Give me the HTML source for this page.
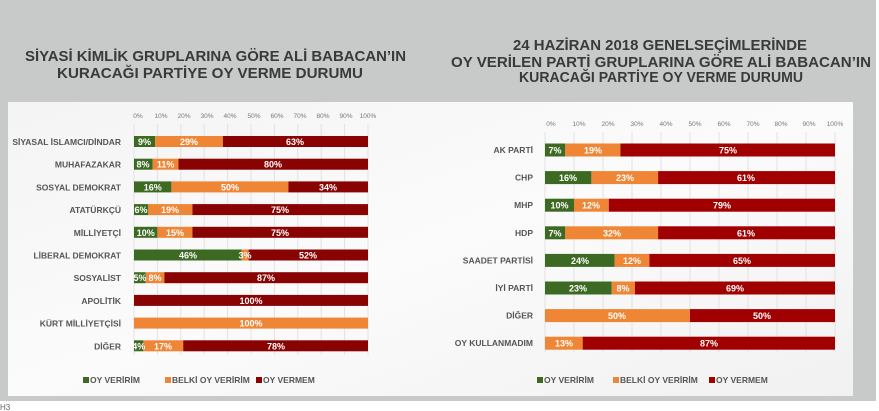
<!DOCTYPE html>
<html><head><meta charset="utf-8"><style>
html,body{margin:0;padding:0;background:#fff;}
svg{display:block;font-family:"Liberation Sans",sans-serif;}
.t{font-weight:bold;fill:#3a3a3a;font-size:15px;}
.ax{font-size:6.5px;fill:#777;text-anchor:middle;}
.lb{font-size:8.5px;font-weight:bold;fill:#555;text-anchor:end;}
.v{font-size:9px;font-weight:bold;fill:#fff;text-anchor:middle;}
.lg{font-size:8.5px;font-weight:bold;fill:#555;}
</style></head><body>
<svg width="879" height="411" viewBox="0 0 879 411" xmlns="http://www.w3.org/2000/svg">
<defs>
<linearGradient id="pg" x1="0" y1="0" x2="1" y2="1"><stop offset="0" stop-color="#f4f4f4"/><stop offset="0.5" stop-color="#fbfbfb"/><stop offset="1" stop-color="#f1f1f1"/></linearGradient>
</defs>
<rect x="0" y="0" width="876" height="401" fill="#c8c9c9"/>
<rect x="8" y="102" width="845" height="294" fill="url(#pg)"/>
<text x="0" y="410" font-size="8" fill="#666">H3</text>
<!-- titles -->
<text class="t" x="25" y="61" textLength="381" lengthAdjust="spacingAndGlyphs">SİYASİ KİMLİK GRUPLARINA GÖRE ALİ BABACAN’IN</text>
<text class="t" x="57" y="78" textLength="306" lengthAdjust="spacingAndGlyphs">KURACAĞI PARTİYE OY VERME DURUMU</text>
<text class="t" x="513" y="50" textLength="294" lengthAdjust="spacingAndGlyphs">24 HAZİRAN 2018 GENELSEÇİMLERİNDE</text>
<text class="t" x="451" y="67" textLength="420" lengthAdjust="spacingAndGlyphs">OY VERİLEN PARTİ GRUPLARINA GÖRE ALİ BABACAN’IN</text>
<text class="t" x="519" y="82" textLength="284" lengthAdjust="spacingAndGlyphs">KURACAĞI PARTİYE OY VERME DURUMU</text>
<!-- left grid -->
<g stroke="#e2e2e2" stroke-width="1">
<line x1="134" y1="124" x2="134" y2="355"/><line x1="157.4" y1="124" x2="157.4" y2="355"/><line x1="180.8" y1="124" x2="180.8" y2="355"/><line x1="204.2" y1="124" x2="204.2" y2="355"/><line x1="227.6" y1="124" x2="227.6" y2="355"/><line x1="251" y1="124" x2="251" y2="355"/><line x1="274.4" y1="124" x2="274.4" y2="355"/><line x1="297.8" y1="124" x2="297.8" y2="355"/><line x1="321.2" y1="124" x2="321.2" y2="355"/><line x1="344.6" y1="124" x2="344.6" y2="355"/><line x1="368" y1="124" x2="368" y2="355"/>
<line x1="545" y1="132" x2="545" y2="352"/><line x1="574" y1="132" x2="574" y2="352"/><line x1="603" y1="132" x2="603" y2="352"/><line x1="632" y1="132" x2="632" y2="352"/><line x1="661" y1="132" x2="661" y2="352"/><line x1="690" y1="132" x2="690" y2="352"/><line x1="719" y1="132" x2="719" y2="352"/><line x1="748" y1="132" x2="748" y2="352"/><line x1="777" y1="132" x2="777" y2="352"/><line x1="806" y1="132" x2="806" y2="352"/><line x1="835" y1="132" x2="835" y2="352"/>
</g>
<g class="ax">
<text x="138" y="118">0%</text><text x="161" y="118">10%</text><text x="184" y="118">20%</text><text x="207" y="118">30%</text><text x="230" y="118">40%</text><text x="254" y="118">50%</text><text x="277" y="118">60%</text><text x="300" y="118">70%</text><text x="323" y="118">80%</text><text x="346" y="118">90%</text><text x="368" y="118">100%</text>
<text x="551" y="126">0%</text><text x="579" y="126">10%</text><text x="608" y="126">20%</text><text x="637" y="126">30%</text><text x="666" y="126">40%</text><text x="695" y="126">50%</text><text x="724" y="126">60%</text><text x="753" y="126">70%</text><text x="781" y="126">80%</text><text x="809" y="126">90%</text><text x="835" y="126">100%</text>
</g>
<!-- left bars -->
<g>
<rect x="134" y="136" width="21.1" height="11" fill="#3d6a22"/><rect x="155.1" y="136" width="67.8" height="11" fill="#ef8636"/><rect x="222.9" y="136" width="145.1" height="11" fill="#8a0303"/>
<rect x="134" y="158.7" width="18.7" height="11" fill="#3d6a22"/><rect x="152.7" y="158.7" width="25.8" height="11" fill="#ef8636"/><rect x="178.5" y="158.7" width="189.5" height="11" fill="#8a0303"/>
<rect x="134" y="181.4" width="37.4" height="11" fill="#3d6a22"/><rect x="171.4" y="181.4" width="117" height="11" fill="#ef8636"/><rect x="288.4" y="181.4" width="79.6" height="11" fill="#8a0303"/>
<rect x="134" y="204.1" width="14" height="11" fill="#3d6a22"/><rect x="148" y="204.1" width="44.5" height="11" fill="#ef8636"/><rect x="192.5" y="204.1" width="175.5" height="11" fill="#8a0303"/>
<rect x="134" y="226.8" width="23.4" height="11" fill="#3d6a22"/><rect x="157.4" y="226.8" width="35.1" height="11" fill="#ef8636"/><rect x="192.5" y="226.8" width="175.5" height="11" fill="#8a0303"/>
<rect x="134" y="249.5" width="107.6" height="11" fill="#3d6a22"/><rect x="241.6" y="249.5" width="7" height="11" fill="#ef8636"/><rect x="248.6" y="249.5" width="119.4" height="11" fill="#8a0303"/>
<rect x="134" y="272.2" width="11.7" height="11" fill="#3d6a22"/><rect x="145.7" y="272.2" width="18.7" height="11" fill="#ef8636"/><rect x="164.4" y="272.2" width="203.6" height="11" fill="#8a0303"/>
<rect x="134" y="294.9" width="234" height="11" fill="#8a0303"/>
<rect x="134" y="317.6" width="234" height="11" fill="#ef8636"/>
<rect x="134" y="340.3" width="9.4" height="11" fill="#3d6a22"/><rect x="143.4" y="340.3" width="39.8" height="11" fill="#ef8636"/><rect x="183.2" y="340.3" width="184.8" height="11" fill="#8a0303"/>
</g>
<g class="v">
<text x="144.5" y="145">9%</text><text x="189" y="145">29%</text><text x="295" y="145">63%</text>
<text x="143" y="167.7">8%</text><text x="165.6" y="167.7">11%</text><text x="273" y="167.7">80%</text>
<text x="152.7" y="190.4">16%</text><text x="230" y="190.4">50%</text><text x="328" y="190.4">34%</text>
<text x="141" y="213.1">6%</text><text x="170" y="213.1">19%</text><text x="280" y="213.1">75%</text>
<text x="145.7" y="235.8">10%</text><text x="175" y="235.8">15%</text><text x="280" y="235.8">75%</text>
<text x="188" y="258.5">46%</text><text x="245" y="258.5">3%</text><text x="308" y="258.5">52%</text>
<text x="140" y="281.2">5%</text><text x="155" y="281.2">8%</text><text x="266" y="281.2">87%</text>
<text x="251" y="303.9">100%</text>
<text x="251" y="326.6">100%</text>
<text x="138.7" y="349.3">4%</text><text x="163" y="349.3">17%</text><text x="276" y="349.3">78%</text>
</g>
<g class="lb">
<text x="121" y="145">SİYASAL İSLAMCI/DİNDAR</text>
<text x="121" y="167.7">MUHAFAZAKAR</text>
<text x="121" y="190.4">SOSYAL DEMOKRAT</text>
<text x="121" y="213.1">ATATÜRKÇÜ</text>
<text x="121" y="235.8">MİLLİYETÇİ</text>
<text x="121" y="258.5">LİBERAL DEMOKRAT</text>
<text x="121" y="281.2">SOSYALİST</text>
<text x="121" y="303.9">APOLİTİK</text>
<text x="121" y="326.6">KÜRT MİLLİYETÇİSİ</text>
<text x="121" y="349.3">DİĞER</text>
</g>
<!-- right bars -->
<g>
<rect x="545" y="143.5" width="20.3" height="13" fill="#3d6a22"/><rect x="565.3" y="143.5" width="55.1" height="13" fill="#ef8636"/><rect x="620.4" y="143.5" width="214.6" height="13" fill="#a00000"/>
<rect x="545" y="171.1" width="46.4" height="13" fill="#3d6a22"/><rect x="591.4" y="171.1" width="66.7" height="13" fill="#ef8636"/><rect x="658.1" y="171.1" width="176.9" height="13" fill="#a00000"/>
<rect x="545" y="198.7" width="29" height="13" fill="#3d6a22"/><rect x="574" y="198.7" width="34.8" height="13" fill="#ef8636"/><rect x="608.8" y="198.7" width="226.2" height="13" fill="#a00000"/>
<rect x="545" y="226.3" width="20.3" height="13" fill="#3d6a22"/><rect x="565.3" y="226.3" width="92.8" height="13" fill="#ef8636"/><rect x="658.1" y="226.3" width="176.9" height="13" fill="#a00000"/>
<rect x="545" y="253.9" width="69.6" height="13" fill="#3d6a22"/><rect x="614.6" y="253.9" width="34.8" height="13" fill="#ef8636"/><rect x="649.4" y="253.9" width="185.6" height="13" fill="#a00000"/>
<rect x="545" y="281.5" width="66.7" height="13" fill="#3d6a22"/><rect x="611.7" y="281.5" width="23.2" height="13" fill="#ef8636"/><rect x="634.9" y="281.5" width="200.1" height="13" fill="#a00000"/>
<rect x="545" y="309.1" width="145" height="13" fill="#ef8636"/><rect x="690" y="309.1" width="145" height="13" fill="#a00000"/>
<rect x="545" y="336.7" width="37.7" height="13" fill="#ef8636"/><rect x="582.7" y="336.7" width="252.3" height="13" fill="#a00000"/>
</g>
<g class="v" font-size="9.5">
<text x="555" y="153.5">7%</text><text x="593" y="153.5">19%</text><text x="728" y="153.5">75%</text>
<text x="568" y="181.1">16%</text><text x="625" y="181.1">23%</text><text x="746" y="181.1">61%</text>
<text x="559.5" y="208.7">10%</text><text x="591" y="208.7">12%</text><text x="722" y="208.7">79%</text>
<text x="555" y="236.3">7%</text><text x="612" y="236.3">32%</text><text x="746" y="236.3">61%</text>
<text x="580" y="263.9">24%</text><text x="632" y="263.9">12%</text><text x="742" y="263.9">65%</text>
<text x="578" y="291.5">23%</text><text x="623" y="291.5">8%</text><text x="735" y="291.5">69%</text>
<text x="617" y="319.1">50%</text><text x="762" y="319.1">50%</text>
<text x="564" y="346.7">13%</text><text x="709" y="346.7">87%</text>
</g>
<g class="lb">
<text x="533" y="153">AK PARTİ</text>
<text x="533" y="180.6">CHP</text>
<text x="533" y="208.2">MHP</text>
<text x="533" y="235.8">HDP</text>
<text x="533" y="263.4">SAADET PARTİSİ</text>
<text x="533" y="291">İYİ PARTİ</text>
<text x="533" y="318.6">DİĞER</text>
<text x="533" y="346.2">OY KULLANMADIM</text>
</g>
<!-- legends -->
<g class="lg">
<rect x="83" y="377" width="6" height="6" fill="#3d6a22"/><text x="90" y="383">OY VERİRİM</text>
<rect x="165" y="377" width="6" height="6" fill="#ef8636"/><text x="172" y="383">BELKİ OY VERİRİM</text>
<rect x="256" y="377" width="6" height="6" fill="#8a0303"/><text x="263" y="383">OY VERMEM</text>
<rect x="537" y="377" width="6" height="6" fill="#3d6a22"/><text x="544" y="383">OY VERİRİM</text>
<rect x="613" y="377" width="6" height="6" fill="#ef8636"/><text x="620" y="383">BELKİ OY VERİRİM</text>
<rect x="709" y="377" width="6" height="6" fill="#a00000"/><text x="716" y="383">OY VERMEM</text>
</g>
</svg>
</body></html>
